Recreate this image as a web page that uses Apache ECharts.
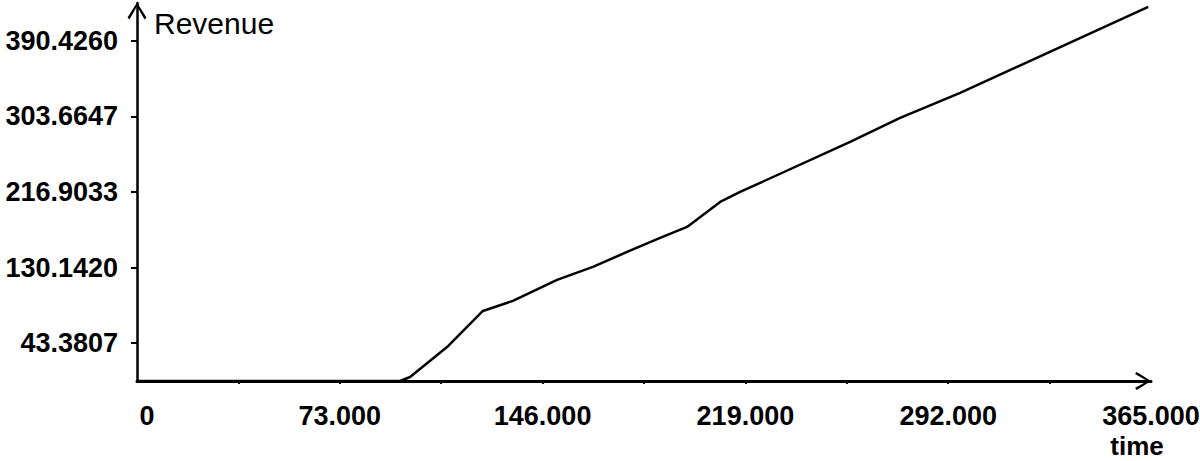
<!DOCTYPE html>
<html>
<head>
<meta charset="utf-8">
<script src="https://cdn.jsdelivr.net/npm/echarts@6/dist/echarts.min.js"></script>
<style>html,body{margin:0;padding:0;background:#fff}#c{width:1200px;height:461px}</style>
</head>
<body>
<div id="c"></div>
<script>
// Data
var timeValues = [0, 94.7, 98.3, 111.6, 124.5, 135.3, 151.2, 164.1, 176.4, 188.3, 198.0, 209.9, 217.1, 224.3, 256.7, 274.7, 296.3, 364.0];
var revenueValues = [0, 0, 4.6, 39.0, 80.4, 91.9, 116.0, 130.9, 148.1, 164.2, 176.8, 205.5, 217.0, 227.4, 274.4, 302.0, 330.7, 429.4];
var xLabelValues = [0, 73, 146, 219, 292, 365];
var xTickValues = [36.5, 73, 109.5, 146, 182.5, 219, 255.5, 292, 328.5];
var yLabelValues = [43.3807, 130.1420, 216.9033, 303.6647, 390.4260];
var yMax = 433.807;
var xMax = 365;

var seriesData = timeValues.map(function (t, i) { return [t, revenueValues[i]]; });
var chevron = 'path://M10,0 L20,16 L18,18 L10,4 L2,18 L0,16 Z';
var FONT = '"Liberation Sans", Arial, sans-serif';

var chart = echarts.init(document.getElementById('c'), null, {renderer: 'svg'});
chart.setOption({
  animation: false,
  backgroundColor: '#ffffff',
  grid: {left: 137, right: 49, top: 3, bottom: 80, containLabel: false, outerBoundsMode: 'none'},
  xAxis: {
    type: 'value', min: 0, max: xMax,
    name: 'time', nameLocation: 'end', nameGap: -14,
    nameTextStyle: {fontFamily: FONT, fontWeight: 'bold', fontSize: 26, color: '#000', align: 'center', verticalAlign: 'top', padding: [52, 0, 0, 0]},
    axisLine: {show: true, onZero: false, lineStyle: {color: '#000', width: 3}, symbol: ['none', chevron], symbolSize: [18, 16], symbolOffset: [0, -8]},
    axisTick: {show: true, customValues: xTickValues, length: 3, lineStyle: {color: '#000', width: 2}},
    axisLabel: {
      customValues: xLabelValues, margin: 21,
      fontFamily: FONT, fontWeight: 'bold', fontSize: 27, color: '#000',
      formatter: function (v) { return v === 0 ? '{z|0}' : v.toFixed(3); },
      rich: {z: {fontFamily: FONT, fontWeight: 'bold', fontSize: 27, color: '#000', padding: [0, 0, 0, 20]}}
    },
    splitLine: {show: false}
  },
  yAxis: {
    type: 'value', min: 0, max: yMax,
    name: 'Revenue', nameLocation: 'end', nameGap: -20,
    nameTextStyle: {fontFamily: FONT, fontSize: 30, color: '#000', align: 'left', verticalAlign: 'middle', padding: [0, 0, 0, 17]},
    axisLine: {show: true, onZero: false, lineStyle: {color: '#000', width: 2.5}, symbol: ['none', chevron], symbolSize: [20, 17], symbolOffset: [0, -8]},
    axisTick: {show: true, customValues: yLabelValues, length: 6, lineStyle: {color: '#000', width: 2}},
    axisLabel: {
      customValues: yLabelValues, margin: 19,
      fontFamily: FONT, fontWeight: 'bold', fontSize: 27, color: '#000',
      formatter: function (v) { return v.toFixed(4); }
    },
    splitLine: {show: false}
  },
  series: [{
    type: 'line', data: seriesData, showSymbol: false, symbol: 'none',
    lineStyle: {color: '#000', width: 2.5}, clip: false
  }]
});
</script>
</body>
</html>
